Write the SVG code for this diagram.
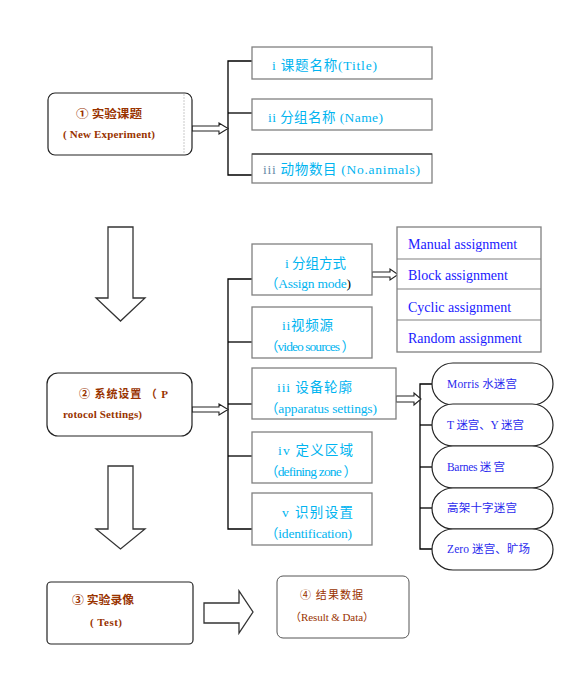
<svg xmlns="http://www.w3.org/2000/svg" width="575" height="681" viewBox="0 0 575 681">
<style>
.main{fill:#fff;stroke:#222;stroke-width:1.2}
.box{fill:#fff;stroke:#808080;stroke-width:1.3}
.pill{fill:#fff;stroke:#222;stroke-width:1.2}
.ln{fill:none;stroke:#000;stroke-width:1.3}
.harr{fill:#fff;stroke:#222;stroke-width:1.1}
.big{fill:#fff;stroke:#333;stroke-width:1.3}
.br{font-family:"Liberation Serif","Noto Sans CJK SC",serif;font-size:11px;font-weight:bold;fill:#993300}
.brn{font-family:"Liberation Serif","Noto Sans CJK SC",serif;font-size:11px;fill:#993300}
.cy{font-family:"Liberation Serif","Noto Sans CJK SC",serif;font-size:13.5px;fill:#00B4F0}
.bl{font-family:"Liberation Serif","Noto Sans CJK SC",serif;font-size:14px;fill:#1a1aff}
.pl{font-family:"Liberation Serif","Noto Sans CJK SC",serif;font-size:11.5px;fill:#2a2aee}
</style>

<g id="connectors">
  <!-- section 1 -->
  <polyline class="ln" points="252,61 228,61 228,175 252,175"/>
  <line class="ln" x1="228" y1="113" x2="252" y2="113"/>
  <polygon class="harr" points="192,126 219,126 219,123 228,128.5 219,134 219,131 192,131"/>
  <!-- section 2 -->
  <polyline class="ln" points="252,279 228,279 228,529 252,529"/>
  <line class="ln" x1="228" y1="342" x2="252" y2="342"/>
  <line class="ln" x1="228" y1="404" x2="252" y2="404"/>
  <line class="ln" x1="228" y1="456" x2="252" y2="456"/>
  <polygon class="harr" points="192,407 219,407 219,404 228,409.5 219,415 219,412 192,412"/>
  <polygon class="harr" points="372,272 390,272 390,269 398,274.5 390,280 390,277 372,277"/>
  <!-- pills -->
  <polyline class="ln" points="432,384 420,384 420,549 432,549"/>
  <line class="ln" x1="420" y1="425" x2="432" y2="425"/>
  <line class="ln" x1="420" y1="467" x2="432" y2="467"/>
  <line class="ln" x1="420" y1="508" x2="432" y2="508"/>
  <polygon class="harr" points="396,396 414,396 414,393 421,399 414,405 414,402 396,402"/>
  <!-- big arrows -->
  <polygon class="big" points="108,227 133,227 133,298 145,298 120.5,321 96,298 108,298"/>
  <polygon class="big" points="108,466 133,466 133,529 145,529 120.5,549 96,529 108,529"/>
  <polygon class="big" points="204,603 239,603 239,591 253,612 239,633 239,623 204,623"/>
</g>

<g id="node-new-experiment">
  <rect class="main" x="48" y="93" width="144" height="62" rx="7"/>
  <line x1="184" y1="94" x2="184" y2="154" stroke="#bbb" stroke-width="0.8" stroke-dasharray="2,1"/>
  <text class="br" x="76" y="118" textLength="66" lengthAdjust="spacingAndGlyphs">➀ 实验课题</text>
  <text class="br" x="63" y="138" textLength="92" lengthAdjust="spacing">( New   Experiment)</text>
</g>

<g id="node-title">
  <rect class="box" x="252" y="47" width="180" height="32"/>
  <text class="cy" x="272" y="70" textLength="105" lengthAdjust="spacing">i 课题名称(Title)</text>
</g>
<g id="node-name">
  <rect class="box" x="252" y="99" width="180" height="31"/>
  <text class="cy" x="268" y="122" textLength="115" lengthAdjust="spacing">ii 分组名称 (Name)</text>
</g>
<g id="node-animals">
  <rect class="box" x="252" y="154" width="180" height="29"/>
  <line x1="252" y1="154" x2="432" y2="154" stroke="#222" stroke-width="1.2"/>
  <text class="cy" x="263" y="174" textLength="157" lengthAdjust="spacing"><tspan fill="#6a8aa8">iii</tspan>  动物数目  (No.animals)</text>
</g>

<g id="node-protocol">
  <rect class="main" x="47" y="373" width="145" height="63" rx="11"/>
  <text class="br" x="79" y="398" textLength="89" lengthAdjust="spacing">➁ 系统设置  （ P</text>
  <text class="br" x="63" y="418" textLength="79" lengthAdjust="spacing">rotocol Settings)</text>
</g>

<g id="node-assign-mode">
  <rect class="box" x="252" y="244" width="120" height="51"/>
  <text class="cy" x="285" y="268" textLength="61" lengthAdjust="spacing">i 分组方式</text>
  <text class="cy" x="265" y="288" textLength="86" lengthAdjust="spacing">（Assign mode<tspan fill="#000">)</tspan></text>
</g>
<g id="node-video">
  <rect class="box" x="252" y="307" width="120" height="51"/>
  <text class="cy" x="282" y="330" textLength="51" lengthAdjust="spacing">ii视频源</text>
  <text class="cy" x="265" y="351" textLength="90" lengthAdjust="spacing">（video sources ）</text>
</g>
<g id="node-apparatus">
  <rect class="box" x="252" y="368" width="144" height="51"/>
  <text class="cy" x="277" y="392" textLength="75" lengthAdjust="spacing">iii  设备轮廓</text>
  <text class="cy" x="265" y="413" textLength="112" lengthAdjust="spacing">（apparatus settings)</text>
</g>
<g id="node-zone">
  <rect class="box" x="252" y="432" width="120" height="51"/>
  <text class="cy" x="278" y="455" textLength="75" lengthAdjust="spacing">iv  定义区域</text>
  <text class="cy" x="265" y="476" textLength="92" lengthAdjust="spacing">（defining zone ）</text>
</g>
<g id="node-identification">
  <rect class="box" x="252" y="493" width="120" height="52"/>
  <text class="cy" x="282" y="517" textLength="71" lengthAdjust="spacing">v  识别设置</text>
  <text class="cy" x="265" y="538" textLength="87" lengthAdjust="spacing">（identification)</text>
</g>

<g id="node-assignments">
  <rect class="box" x="397" y="227" width="144" height="125"/>
  <line x1="397" y1="259" x2="541" y2="259" stroke="#808080" stroke-width="1.2"/>
  <line x1="397" y1="289" x2="541" y2="289" stroke="#808080" stroke-width="1.2"/>
  <line x1="397" y1="320" x2="541" y2="320" stroke="#808080" stroke-width="1.2"/>
  <text class="bl" x="408" y="249">Manual assignment</text>
  <text class="bl" x="408" y="280">Block assignment</text>
  <text class="bl" x="408" y="312">Cyclic assignment</text>
  <text class="bl" x="408" y="343">Random assignment</text>
</g>

<g id="node-morris">
  <rect class="pill" x="432" y="363" width="121" height="42" rx="21" ry="21"/>
  <text class="pl" x="447" y="388" textLength="70" lengthAdjust="spacing">Morris 水迷宫</text>
</g>
<g id="node-ty">
  <rect class="pill" x="432" y="404" width="121" height="42" rx="21" ry="21"/>
  <text class="pl" x="447" y="429" textLength="77" lengthAdjust="spacing">T 迷宫、Y 迷宫</text>
</g>
<g id="node-barnes">
  <rect class="pill" x="432" y="446" width="121" height="42" rx="21" ry="21"/>
  <text class="pl" x="447" y="471" textLength="58" lengthAdjust="spacing">Barnes 迷 宫</text>
</g>
<g id="node-plus">
  <rect class="pill" x="432" y="488" width="121" height="41" rx="21" ry="20.5"/>
  <text class="pl" x="447" y="512" textLength="70" lengthAdjust="spacing">高架十字迷宫</text>
</g>
<g id="node-zero">
  <rect class="pill" x="432" y="529" width="121" height="41" rx="21" ry="20.5"/>
  <text class="pl" x="447" y="553" textLength="83" lengthAdjust="spacing">Zero 迷宫、旷场</text>
</g>

<g id="node-test">
  <rect class="main" x="47" y="582" width="146" height="62" rx="4"/>
  <text class="br" x="72" y="604" textLength="62" lengthAdjust="spacingAndGlyphs">➂ 实验录像</text>
  <text class="br" x="90" y="626" textLength="32" lengthAdjust="spacing">( Test)</text>
</g>

<g id="node-result">
  <rect x="277" y="576" width="132" height="62" rx="6" fill="#fff" stroke="#555" stroke-width="1"/>
  <text class="brn" x="300" y="599" textLength="63" lengthAdjust="spacing">④  结果数据</text>
  <text class="brn" x="290" y="621" textLength="84" lengthAdjust="spacing">（Result &amp;  Data）</text>
</g>
</svg>
